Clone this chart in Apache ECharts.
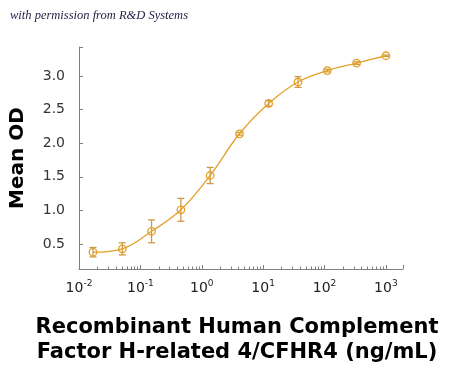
<!DOCTYPE html>
<html>
<head>
<meta charset="utf-8">
<script src="https://cdn.jsdelivr.net/npm/echarts@6/dist/echarts.min.js"></script>
<style>html,body{margin:0;padding:0;background:#fff;}#c{width:450px;height:372px;}</style>
</head>
<body>
<div id="c"></div>
<script>
var concentrations = [0.0169, 0.0508, 0.152, 0.457, 1.37, 4.12, 12.3, 37.0, 111, 333, 1000];
var meanOD = [0.38, 0.43, 0.69, 1.01, 1.52, 2.14, 2.59, 2.91, 3.08, 3.19, 3.30];
var errOD = [0.07, 0.09, 0.17, 0.17, 0.12, 0.02, 0.04, 0.08, 0.02, 0.02, 0.01];
var yTickLabels = ['0.5', '1.0', '1.5', '2.0', '2.5', '3.0'];
var xTitle = 'Recombinant Human Complement\nFactor H-related 4/CFHR4 (ng/mL)';
var yTitle = 'Mean OD';
var credit = 'with permission from R&D Systems';

var lineColor = '#E3A02A';
var errColor = '#CE9A45';
var axisColor = '#7f7f7f';

var points = concentrations.map(function (c, i) { return [c, meanOD[i]]; });
var errData = concentrations.map(function (c, i) { return [c, meanOD[i] - errOD[i], meanOD[i] + errOD[i]]; });

var chart = echarts.init(document.getElementById('c'), null, {renderer: 'canvas'});
chart.setOption({
  animation: false,
  backgroundColor: '#fff',
  graphic: [{
    type: 'text', left: 10, top: 9,
    style: {text: credit, font: 'italic 12.5px "Liberation Serif", serif', fill: '#23234a'}
  }],
  grid: {left: 78, right: 47, top: 47, bottom: 103, containLabel: false},
  xAxis: {
    type: 'log', logBase: 10, min: 0.01, max: 1900,
    name: xTitle, nameLocation: 'middle', nameGap: 46,
    nameTextStyle: {fontFamily: 'DejaVu Sans', fontWeight: 'bold', fontSize: 21, color: '#000', lineHeight: 25, padding: [0, 8, 0, 0]},
    axisLine: {show: true, lineStyle: {color: axisColor, width: 1}},
    axisTick: {show: true, inside: true, length: 4, lineStyle: {color: axisColor}},
    minorTick: {show: true, splitNumber: 9, length: 2.5, lineStyle: {color: axisColor}},
    splitLine: {show: false},
    axisLabel: {
      margin: 10,
      formatter: function (v) {
        var e = Math.round(Math.log10(v));
        if (Math.abs(v - Math.pow(10, e)) > 1e-9 * Math.pow(10, e)) return '';
        return '{b|10}{s|' + e + '}';
      },
      rich: {
        b: {fontFamily: 'DejaVu Sans', fontSize: 14, color: '#222', lineHeight: 18},
        s: {fontFamily: 'DejaVu Sans', fontSize: 9, color: '#222', lineHeight: 9, verticalAlign: 'top'}
      }
    }
  },
  yAxis: {
    type: 'value', min: 0.13, max: 3.43, splitNumber: 5,
    name: yTitle, nameLocation: 'middle', nameGap: 51,
    nameTextStyle: {fontFamily: 'DejaVu Sans', fontWeight: 'bold', fontSize: 20, color: '#000'},
    axisLine: {show: true, lineStyle: {color: axisColor, width: 1}},
    axisTick: {show: true, inside: true, length: 4, lineStyle: {color: axisColor}},
    splitLine: {show: false},
    axisLabel: {
      margin: 14, fontFamily: 'DejaVu Sans', fontSize: 14, color: '#333',
      formatter: function (v) {
        var s = v.toFixed(1);
        return yTickLabels.indexOf(s) >= 0 && Math.abs(v - parseFloat(s)) < 1e-6 ? s : '';
      }
    }
  },
  series: [
    {
      type: 'custom',
      data: errData,
      renderItem: function (params, api) {
        var x = api.value(0);
        var lo = api.coord([x, api.value(1)]);
        var hi = api.coord([x, api.value(2)]);
        var w = 3.5;
        var st = {stroke: errColor, lineWidth: 1.3};
        return {type: 'group', children: [
          {type: 'line', shape: {x1: lo[0], y1: lo[1], x2: hi[0], y2: hi[1]}, style: st},
          {type: 'line', shape: {x1: lo[0] - w, y1: lo[1], x2: lo[0] + w, y2: lo[1]}, style: st},
          {type: 'line', shape: {x1: hi[0] - w, y1: hi[1], x2: hi[0] + w, y2: hi[1]}, style: st}
        ]};
      },
      z: 2
    },
    {
      type: 'line',
      data: points,
      smooth: 0.4,
      symbol: 'circle', symbolSize: 7.5,
      lineStyle: {color: lineColor, width: 1.3},
      itemStyle: {color: 'rgba(255,255,255,0)', borderColor: lineColor, borderWidth: 1.3},
      z: 3
    }
  ]
});
</script>
</body>
</html>
